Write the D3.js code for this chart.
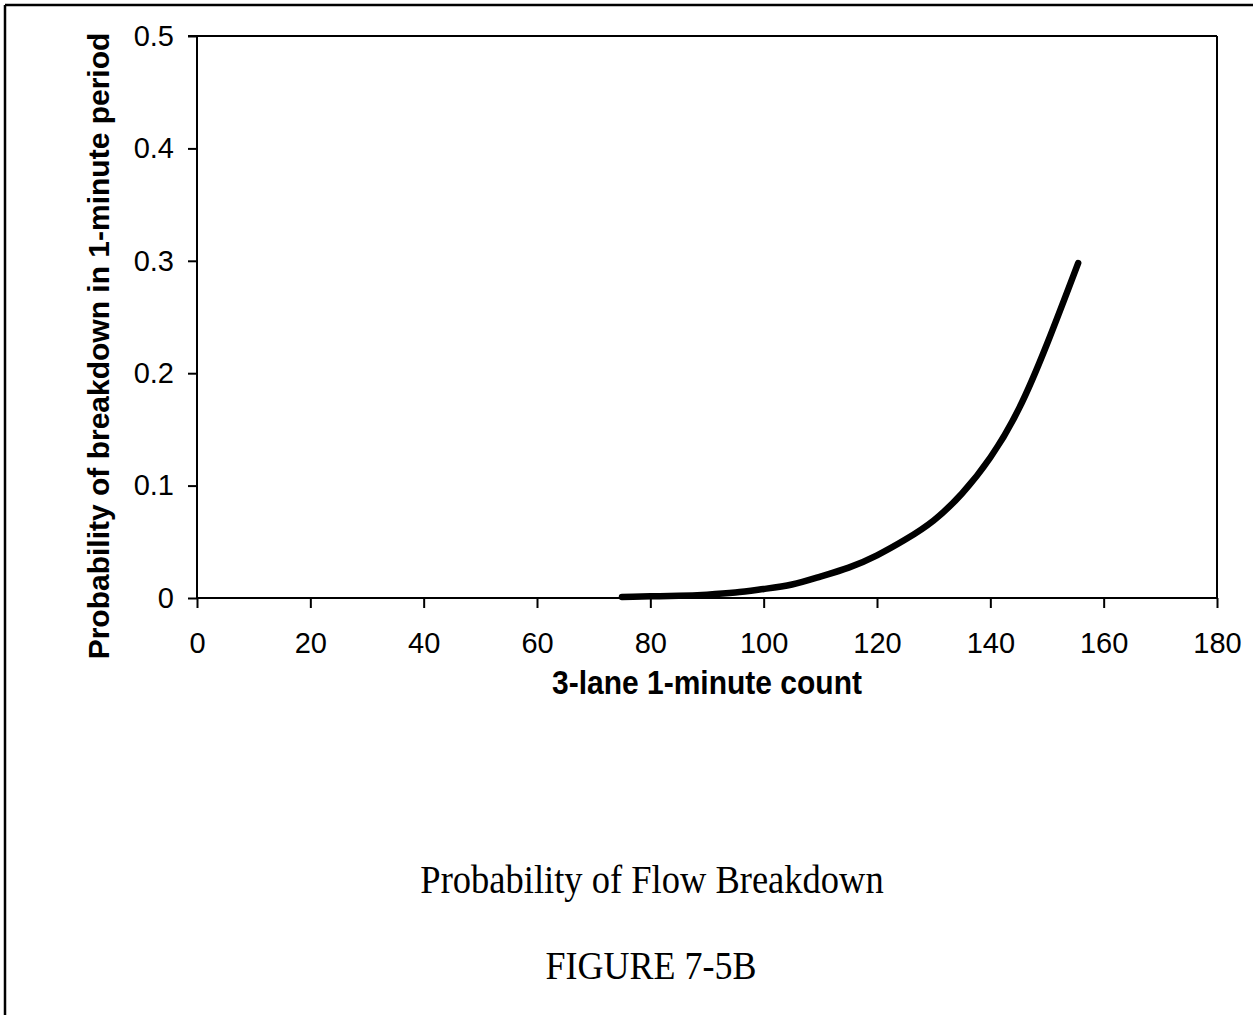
<!DOCTYPE html>
<html>
<head>
<meta charset="utf-8">
<script src="https://cdn.jsdelivr.net/npm/d3@7"></script>
<style>
  html, body { margin: 0; padding: 0; background: #fff; }
  svg { display: block; }
</style>
</head>
<body>
<svg id="chart" width="1253" height="1015"></svg>
<script>
// ---- data ----
const counts = [75, 80, 85, 90, 95, 100, 105, 110, 115, 120, 125, 130, 135, 140, 145, 150, 155.5];
const probs  = [0.001, 0.0015, 0.002, 0.003, 0.0048, 0.008, 0.012, 0.019, 0.027, 0.038, 0.052, 0.069, 0.093, 0.125, 0.168, 0.226, 0.298];
const xTicks = [0, 20, 40, 60, 80, 100, 120, 140, 160, 180];
const yTicks = [0, 0.1, 0.2, 0.3, 0.4, 0.5];
const xTitle = "3-lane 1-minute count";
const yTitle = "Probability of breakdown in 1-minute period";
const caption = "Probability of Flow Breakdown";
const figLabel = "FIGURE 7-5B";

const svg = d3.select("#chart");
const W = 1253, H = 1015;
const m = { left: 197, right: 1217, top: 36, bottom: 598 };

const x = d3.scaleLinear().domain([0, 180]).range([m.left, m.right]);
const y = d3.scaleLinear().domain([0, 0.5]).range([m.bottom, m.top]);

// page frame (top and left edges only)
svg.append("line").attr("x1", 5).attr("x2", W).attr("y1", 5).attr("y2", 5)
  .attr("stroke", "#000").attr("stroke-width", 2.5);
svg.append("line").attr("x1", 5).attr("x2", 5).attr("y1", 5).attr("y2", H)
  .attr("stroke", "#000").attr("stroke-width", 2.5);

// plot frame top and right
svg.append("line").attr("x1", x(0)).attr("x2", x(180)).attr("y1", y(0.5)).attr("y2", y(0.5))
  .attr("stroke", "#000").attr("stroke-width", 2);
svg.append("line").attr("x1", x(180)).attr("x2", x(180)).attr("y1", y(0.5)).attr("y2", y(0))
  .attr("stroke", "#000").attr("stroke-width", 2);

const sans = "'Liberation Sans', Arial, Helvetica, sans-serif";
const serif = "'Liberation Serif', 'Times New Roman', Times, serif";

// y axis
const gy = svg.append("g").attr("transform", `translate(${x(0)},0)`)
  .call(d3.axisLeft(y).tickValues(yTicks).tickSize(9).tickPadding(14)
    .tickFormat(d => d === 0 ? "0" : d3.format(".1f")(d)));
gy.select(".domain").attr("stroke", "#000").attr("stroke-width", 2).attr("d", `M-9,${y(0.5)}H0V${y(0)}`);
gy.selectAll(".tick line").attr("stroke", "#000").attr("stroke-width", 2);
gy.selectAll(".tick text").attr("font-family", sans).attr("font-size", 29).attr("fill", "#000");

// x axis
const gx = svg.append("g").attr("transform", `translate(0,${y(0)})`)
  .call(d3.axisBottom(x).tickValues(xTicks).tickSize(10).tickPadding(24).tickFormat(d3.format("d")));
gx.select(".domain").attr("stroke", "#000").attr("stroke-width", 2).attr("d", `M${x(0)},0H${x(180)}`);
gx.selectAll(".tick line").attr("stroke", "#000").attr("stroke-width", 2);
gx.selectAll(".tick text").attr("font-family", sans).attr("font-size", 29).attr("fill", "#000");

// axis titles
svg.append("text").attr("transform", `translate(${(m.left + m.right) / 2},694) scale(1,1.12)`)
  .attr("text-anchor", "middle").attr("font-family", sans).attr("font-weight", "bold")
  .attr("font-size", 30).text(xTitle);
svg.append("text").attr("transform", `translate(109,346) rotate(-90)`)
  .attr("text-anchor", "middle").attr("font-family", sans).attr("font-weight", "bold")
  .attr("font-size", 30).text(yTitle);

// curve
const pts = counts.map((c, i) => [c, probs[i]]);
svg.append("path").datum(pts)
  .attr("fill", "none").attr("stroke", "#000").attr("stroke-width", 6.5)
  .attr("stroke-linecap", "round")
  .attr("d", d3.line().x(d => x(d[0])).y(d => y(d[1])).curve(d3.curveNatural));

// captions
svg.append("text").attr("transform", `translate(652,893) scale(1,1.12)`)
  .attr("text-anchor", "middle").attr("font-family", serif).attr("font-size", 36.5)
  .text(caption);
svg.append("text").attr("transform", `translate(651,979) scale(1,1.12)`)
  .attr("text-anchor", "middle").attr("font-family", serif).attr("font-size", 36)
  .text(figLabel);
</script>
</body>
</html>
